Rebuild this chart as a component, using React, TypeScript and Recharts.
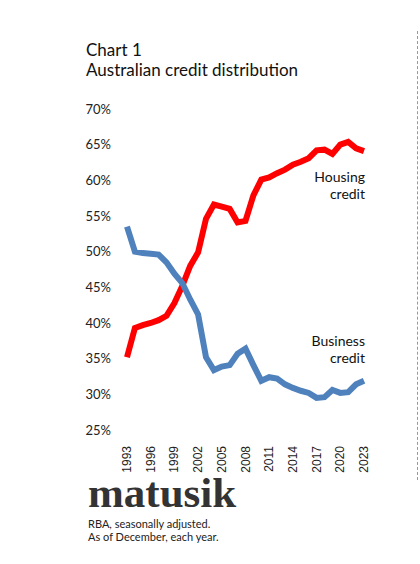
import { LineChart, Line, XAxis, YAxis } from 'recharts'

const years = [
  1993, 1994, 1995, 1996, 1997, 1998, 1999, 2000, 2001, 2002, 2003, 2004, 2005, 2006, 2007, 2008,
  2009, 2010, 2011, 2012, 2013, 2014, 2015, 2016, 2017, 2018, 2019, 2020, 2021, 2022, 2023,
]
const housing = [
  35.2, 39.3, 39.7, 40.0, 40.4, 41.0, 42.8, 45.2, 48.0, 49.9, 54.6, 56.6, 56.3, 56.0, 54.1, 54.3,
  57.9, 60.1, 60.4, 61.0, 61.5, 62.2, 62.6, 63.1, 64.2, 64.3, 63.7, 65.0, 65.4, 64.5, 64.1,
]
const business = [
  53.5, 50.0, 49.8, 49.7, 49.6, 48.5, 46.9, 45.6, 43.3, 41.2, 35.2, 33.4, 33.9, 34.1, 35.7, 36.4,
  34.1, 31.9, 32.4, 32.2, 31.4, 30.9, 30.5, 30.2, 29.5, 29.6, 30.6, 30.2, 30.3, 31.4, 31.9,
]
const xTicks = [1993, 1996, 1999, 2002, 2005, 2008, 2011, 2014, 2017, 2020, 2023]
const yTicks = [25, 30, 35, 40, 45, 50, 55, 60, 65, 70]

const data = years.map((year, i) => ({ year, housing: housing[i], business: business[i] }))

const sans = "Lato, 'Noto Sans', sans-serif"

function YearTick({ x, y, payload }: { x?: number; y?: number; payload?: { value: number } }) {
  return (
    <text
      transform={`translate(${x},${(y ?? 0) + 8}) rotate(-90)`}
      textAnchor="end"
      dominantBaseline="central"
      fontFamily="'Liberation Sans', Arial, sans-serif"
      fontSize={12}
      fill="#222"
    >
      {payload?.value}
    </text>
  )
}

export default function App() {
  return (
    <div
      style={{
        position: 'absolute',
        left: 0,
        top: 0,
        width: 420,
        height: 564,
        background: '#fff',
        fontFamily: sans,
        color: '#111',
      }}
    >
      <div style={{ position: 'absolute', left: 86, top: 40, fontSize: 17, lineHeight: '20px' }}>
        Chart 1
        <br />
        Australian credit distribution
      </div>

      <div style={{ position: 'absolute', top: 0, left: 0 }}>
        <LineChart width={420} height={564} data={data} margin={{ top: 109, right: 56, bottom: 94, left: 87 }}>
          <XAxis
            dataKey="year"
            type="number"
            domain={[1993, 2023]}
            ticks={xTicks}
            interval={0}
            axisLine={false}
            tickLine={false}
            height={40}
            tick={<YearTick />}
          />
          <YAxis
            type="number"
            domain={[25, 70]}
            ticks={yTicks}
            interval={0}
            axisLine={false}
            tickLine={false}
            width={40}
            tickMargin={10}
            tickFormatter={(v: number) => v + '%'}
            tick={{ fontFamily: sans, fontSize: 13, fill: '#222' }}
          />
          <Line
            type="linear"
            dataKey="housing"
            stroke="#ff0000"
            strokeWidth={6}
            dot={false}
            isAnimationActive={false}
          />
          <Line
            type="linear"
            dataKey="business"
            stroke="#4f81bd"
            strokeWidth={6}
            dot={false}
            isAnimationActive={false}
          />
        </LineChart>
      </div>

      <div style={{ position: 'absolute', right: 55, top: 168, fontSize: 14, lineHeight: '17px', textAlign: 'right' }}>
        Housing
        <br />
        credit
      </div>
      <div style={{ position: 'absolute', right: 55, top: 332, fontSize: 14, lineHeight: '17px', textAlign: 'right' }}>
        Business
        <br />
        credit
      </div>

      <div
        style={{
          position: 'absolute',
          left: 88,
          top: 474.5,
          fontFamily: "'Liberation Serif', 'Times New Roman', serif",
          fontWeight: 'bold',
          fontSize: 43,
          lineHeight: '36px',
          color: '#333',
        }}
      >
        matusik
      </div>
      <div style={{ position: 'absolute', left: 88, top: 517, fontSize: 11, lineHeight: '13px', color: '#222' }}>
        RBA, seasonally adjusted.
        <br />
        As of December, each year.
      </div>

      <div
        style={{
          position: 'absolute',
          left: 417,
          top: 31,
          height: 449,
          borderLeft: '1px dashed #999',
        }}
      />
    </div>
  )
}
